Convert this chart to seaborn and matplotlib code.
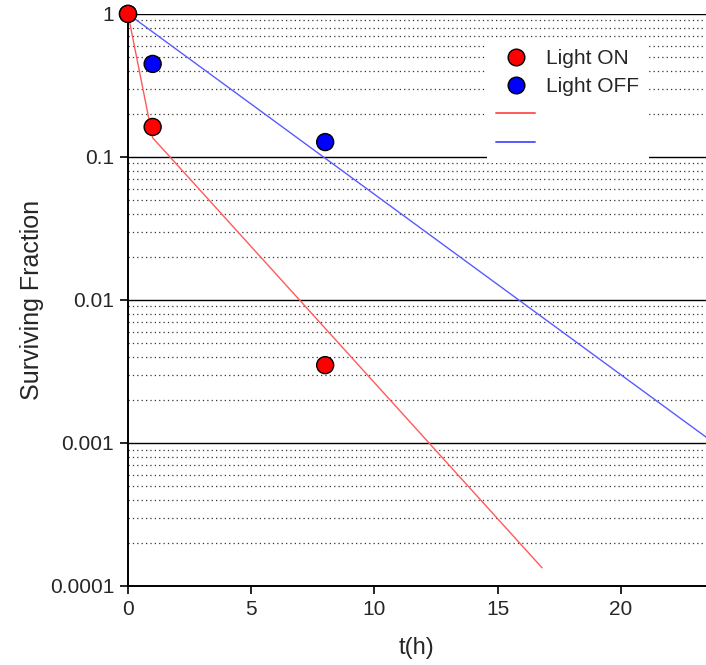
import numpy as np
import pandas as pd
import seaborn as sns
import matplotlib.pyplot as plt
from matplotlib.lines import Line2D
from matplotlib.ticker import NullFormatter, FixedLocator

# measured survival
t_points = [0, 1, 8]
light_on = [1.0, 0.162, 0.0035]
light_off = [1.0, 0.447, 0.127]

# fitted curves
fit_on_t = [0, 1, 16.8]
fit_on = [1.0, 0.136, 0.000134]
fit_off_t = [0, 23.45]
fit_off = [1.0, 0.0011]

y_ticks = [0.0001, 0.001, 0.01, 0.1, 1]
y_labels = ["0.0001", "0.001", "0.01", "0.1", "1"]
x_ticks = [0, 5, 10, 15, 20]

sns.set_style("white")
plt.rcParams['font.family'] = ['Liberation Sans', 'DejaVu Sans']

df_pts = pd.DataFrame({"t": t_points * 2,
                       "sf": light_on + light_off,
                       "cond": ["Light ON"] * 3 + ["Light OFF"] * 3})

fig = plt.figure(figsize=(7.06, 6.65), dpi=100)
ax = fig.add_axes([0.1813, 0.1188, 0.8187, 0.8603])
ax.set_yscale("log")

sns.lineplot(x=fit_on_t, y=fit_on, ax=ax, color="#ff5a5a", linewidth=1.0, sort=False)
sns.lineplot(x=fit_off_t, y=fit_off, ax=ax, color="#5a5aff", linewidth=1.0, sort=False)
sns.scatterplot(data=df_pts.iloc[::-1], x="t", y="sf", hue="cond",
                palette={"Light ON": "#ff0000", "Light OFF": "#0000ff"},
                s=150, edgecolor="black", linewidth=1.0, ax=ax, zorder=5,
                clip_on=False, legend=False)

ax.set_xlim(0, 23.45)
ax.set_ylim(0.0001, 1)

# grid: solid at decades, dotted at minor
for d in [0.001, 0.01, 0.1, 1]:
    ax.axhline(d, color="black", linewidth=1.0, zorder=1)
for dec in [0.0001, 0.001, 0.01, 0.1]:
    for m in range(2, 10):
        ax.axhline(dec * m, color="#333333", linewidth=0.9,
                   linestyle=(0, (1, 2.5)), zorder=1)

ax.yaxis.set_major_locator(FixedLocator(y_ticks))
ax.set_yticklabels(y_labels)
ax.yaxis.set_minor_locator(FixedLocator([]))
ax.yaxis.set_minor_formatter(NullFormatter())
ax.set_xticks(x_ticks)
ax.tick_params(axis="both", which="major", direction="out", length=6,
               width=1.2, color="black", labelsize=15, left=True, bottom=True,
               pad=4)

for s in ["top", "right"]:
    ax.spines[s].set_visible(False)
for s in ["left", "bottom"]:
    ax.spines[s].set_color("black")
    ax.spines[s].set_linewidth(1.4)

ax.set_xlabel("t(h)", fontsize=17, labelpad=13)
ax.set_ylabel("Surviving Fraction", fontsize=18, labelpad=4)

handles = [
    Line2D([], [], marker="o", linestyle="none", markerfacecolor="#ff0000",
           markeredgecolor="black", markersize=12),
    Line2D([], [], marker="o", linestyle="none", markerfacecolor="#0000ff",
           markeredgecolor="black", markersize=12),
    Line2D([], [], color="#ff5a5a", linewidth=1.4),
    Line2D([], [], color="#5a5aff", linewidth=1.4),
]
leg = ax.legend(handles, ["Light ON", "Light OFF", " ", " "],
                loc="upper left", bbox_to_anchor=(0.621, 0.955),
                borderaxespad=0, frameon=True, facecolor="white",
                edgecolor="none", framealpha=1, fontsize=15,
                handlelength=1.85, handletextpad=0.55,
                labelspacing=0.45, borderpad=0.45)
leg.set_zorder(4)

fig.savefig("out.png", dpi=100)
